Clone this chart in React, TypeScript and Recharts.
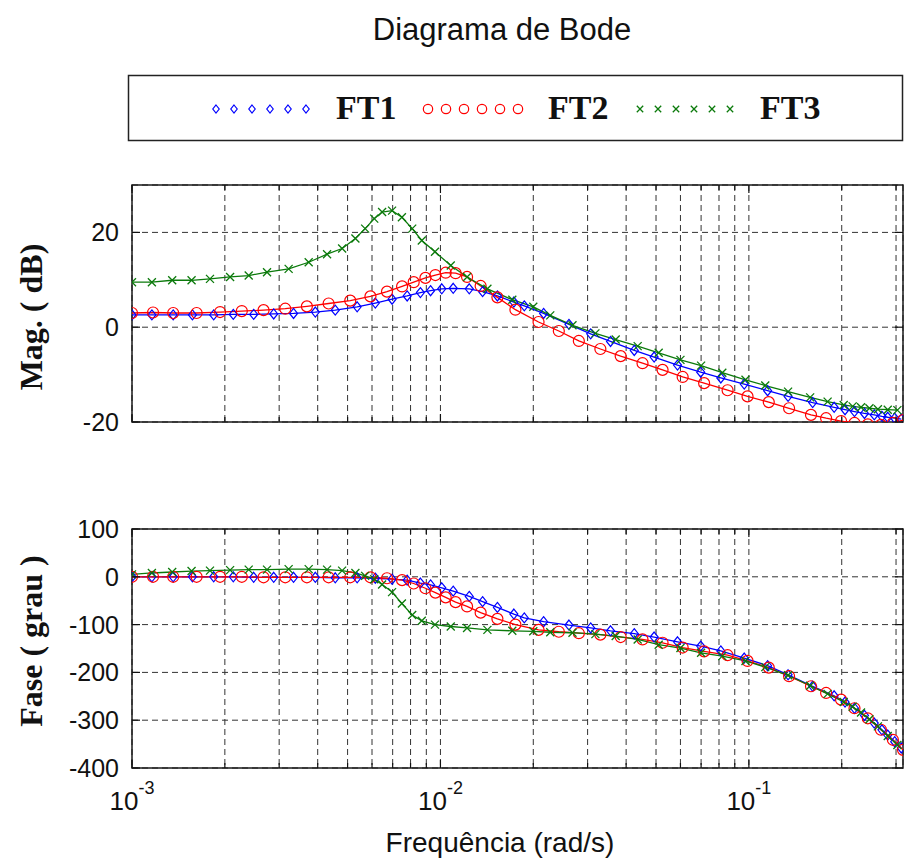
import React from 'react';
import { LineChart, Line, XAxis, YAxis, CartesianGrid, ReferenceArea } from 'recharts';

// frequency (rad/s) samples per transfer function
const ft1Freq = [0.001, 0.00116, 0.00136, 0.00157, 0.00184, 0.00213, 0.00248, 0.00288, 0.00334, 0.00393, 0.00456, 0.00537, 0.00615, 0.00697, 0.0078, 0.00861, 0.00929, 0.0101, 0.011, 0.0124, 0.0137, 0.0153, 0.0173, 0.0187, 0.0216, 0.0261, 0.0307, 0.0356, 0.0425, 0.0493, 0.0587, 0.0698, 0.0811, 0.0966, 0.115, 0.134, 0.161, 0.189, 0.205, 0.22, 0.237, 0.255, 0.27, 0.282, 0.297, 0.312];
const ft1Mag = [2.6, 2.6, 2.6, 2.6, 2.6, 2.7, 2.7, 2.8, 2.9, 3.2, 3.6, 4.3, 5.1, 5.9, 6.6, 7.3, 7.7, 8.1, 8.2, 8.1, 7.5, 6.6, 5.3, 4.5, 2.9, 0.6, -1.4, -3.0, -4.9, -6.3, -8.0, -9.5, -10.7, -12.0, -13.4, -14.6, -15.9, -16.9, -17.4, -17.8, -18.2, -18.5, -18.8, -19.0, -19.2, -19.4];
const ft1Phase = [0, 0, 0, 0, 0, 0, -1, -1, -1, -1, -2, -2, -3, -5, -7, -13, -17, -23, -30, -41, -52, -64, -78, -86, -94, -101, -107, -113, -119, -126, -136, -145, -155, -170, -186, -205, -229, -249, -262, -275, -290, -306, -320, -331, -345, -358];

const ft2Freq = [0.001, 0.00117, 0.00136, 0.00162, 0.00193, 0.00227, 0.00267, 0.00314, 0.00369, 0.00434, 0.0051, 0.00593, 0.00671, 0.00751, 0.00819, 0.00894, 0.00963, 0.0104, 0.0112, 0.0122, 0.0135, 0.0153, 0.0175, 0.0208, 0.0242, 0.0281, 0.033, 0.0384, 0.0452, 0.0525, 0.061, 0.0716, 0.0853, 0.099, 0.116, 0.135, 0.159, 0.178, 0.199, 0.22, 0.243, 0.268, 0.293, 0.316];
const ft2Mag = [3.0, 3.1, 3.0, 3.0, 3.2, 3.4, 3.6, 3.9, 4.4, 5.0, 5.6, 6.5, 7.5, 8.6, 9.5, 10.4, 11.0, 11.5, 11.4, 10.6, 8.7, 6.3, 3.7, 1.1, -0.8, -2.9, -4.6, -6.1, -7.6, -9.0, -10.5, -11.8, -13.3, -14.6, -15.8, -17.1, -18.5, -19.2, -19.8, -20.2, -20.5, -20.6, -20.2, -19.6];
const ft2Phase = [0, 0, 0, 0, 0, 0, -1, -1, -1, -1, -1, -1, -3, -7, -14, -24, -33, -43, -53, -62, -75, -88, -100, -111, -115, -118, -121, -126, -131, -138, -148, -156, -164, -176, -190, -208, -229, -243, -257, -275, -296, -320, -341, -362];

const ft3Freq = [0.001, 0.00116, 0.00135, 0.00156, 0.00179, 0.00208, 0.00239, 0.00274, 0.00322, 0.00374, 0.00429, 0.0048, 0.0053, 0.0057, 0.0061, 0.00647, 0.00697, 0.0075, 0.0081, 0.0087, 0.0096, 0.0108, 0.0122, 0.0142, 0.0171, 0.02, 0.0227, 0.0268, 0.0318, 0.037, 0.0436, 0.051, 0.06, 0.07, 0.082, 0.0975, 0.113, 0.134, 0.158, 0.18, 0.203, 0.217, 0.231, 0.246, 0.262, 0.282, 0.303];
const ft3Mag = [9.5, 9.5, 9.9, 9.9, 10.2, 10.6, 10.9, 11.6, 12.3, 13.7, 15.4, 16.6, 18.7, 20.8, 22.9, 24.3, 24.6, 23.2, 20.8, 18.3, 15.9, 13.0, 10.6, 8.1, 5.8, 4.3, 2.5, 0.4, -1.3, -2.6, -4.0, -5.4, -6.9, -8.1, -9.6, -11.1, -12.3, -13.6, -14.8, -15.7, -16.4, -16.7, -16.9, -17.1, -17.3, -17.4, -17.5];
const ft3Phase = [5, 8, 10, 12, 13, 14, 15, 15, 16, 16, 15, 13, 8, 2, -5, -16, -32, -56, -80, -92, -100, -104, -107, -111, -113, -114, -116, -117, -120, -124, -131, -142, -149, -159, -166, -176, -189, -206, -228, -245, -262, -272, -284, -298, -313, -333, -352];

const freqTicks = [0.001, 0.002, 0.003, 0.004, 0.005, 0.006, 0.007, 0.008, 0.009, 0.01, 0.02, 0.03, 0.04, 0.05, 0.06, 0.07, 0.08, 0.09, 0.1, 0.2, 0.3];
const magTicks = [-20, 0, 20];
const phaseTicks = [-400, -300, -200, -100, 0, 100];

const seriesNames = ['FT1', 'FT2', 'FT3'];
const seriesColors = ['#0000ff', '#ff0000', '#0b7a0b'];
const seriesMarkers = ['diamond', 'circle', 'cross'];

const series = [
  { freq: ft1Freq, mag: ft1Mag, phase: ft1Phase },
  { freq: ft2Freq, mag: ft2Mag, phase: ft2Phase },
  { freq: ft3Freq, mag: ft3Mag, phase: ft3Phase },
].map((s, i) => ({ ...s, name: seriesNames[i], color: seriesColors[i], marker: seriesMarkers[i] }));

const W = 908;
const PLOT_LEFT = 132;
const PLOT_RIGHT = 903;
const SANS = '"Liberation Sans", Arial, Helvetica, sans-serif';
const SERIF = '"Liberation Serif", "Times New Roman", serif';
const INK = '#111';

function Marker({ kind, cx, cy, color, s = 1 }: any) {
  if (kind === 'diamond') {
    return (
      <path
        d={`M${cx},${cy - 5 * s}L${cx + 4 * s},${cy}L${cx},${cy + 5 * s}L${cx - 4 * s},${cy}Z`}
        fill="none"
        stroke={color}
        strokeWidth={1.2}
      />
    );
  }
  if (kind === 'circle') {
    return <circle cx={cx} cy={cy} r={5.5 * s} fill="none" stroke={color} strokeWidth={1.2} />;
  }
  return (
    <path
      d={`M${cx - 4 * s},${cy - 4 * s}L${cx + 4 * s},${cy + 4 * s}M${cx - 4 * s},${cy + 4 * s}L${cx + 4 * s},${cy - 4 * s}`}
      stroke={color}
      strokeWidth={1.3}
    />
  );
}

const dotFor = (kind: string, color: string) => (p: any) => {
  const { cx, cy, index } = p;
  if (cx == null || cy == null) return <g key={index} />;
  return <Marker key={index} kind={kind} cx={cx} cy={cy} color={color} />;
};

function XTick({ x, y, payload, plotH, showLabel }: any) {
  const v = payload.value;
  const lg = Math.log10(v);
  const exp = Math.round(lg);
  const major = Math.abs(lg - exp) < 1e-6;
  const len = major ? 8 : 5;
  return (
    <g>
      <line x1={x} x2={x} y1={y} y2={y - len} stroke={INK} strokeWidth={1.2} />
      <line x1={x} x2={x} y1={y - plotH} y2={y - plotH + len} stroke={INK} strokeWidth={1.2} />
      {showLabel && major && (
        <text x={x} y={y + 42} textAnchor="middle" fontFamily={SANS} fontSize={26} fill={INK}>
          10
          <tspan dy={-16} fontSize={18}>
            {exp}
          </tspan>
        </text>
      )}
    </g>
  );
}

function YTick({ x, y, payload, plotW }: any) {
  return (
    <g>
      <line x1={x} x2={x + 8} y1={y} y2={y} stroke={INK} strokeWidth={1.2} />
      <line x1={x + plotW - 8} x2={x + plotW} y1={y} y2={y} stroke={INK} strokeWidth={1.2} />
      <text x={x - 13} y={y} dy="0.36em" textAnchor="end" fontFamily={SANS} fontSize={25} fill={INK}>
        {payload.value}
      </text>
    </g>
  );
}

function BodePanel({ top, height, marginTop, marginBottom, xAxisHeight, yTicks, yDomain, valueKey, showXLabels }: any) {
  const plotH = height - marginTop - marginBottom - xAxisHeight;
  const plotW = PLOT_RIGHT - PLOT_LEFT;
  return (
    <div style={{ position: 'absolute', left: 0, top, width: W, height }}>
      <LineChart
        width={W}
        height={height}
        margin={{ top: marginTop, right: W - PLOT_RIGHT, bottom: marginBottom, left: PLOT_LEFT - 60 }}
      >
        <CartesianGrid stroke="#333" strokeDasharray="6 4" strokeWidth={1} />
        <XAxis
          type="number"
          dataKey="f"
          scale="log"
          domain={[0.001, 0.316]}
          allowDataOverflow
          ticks={freqTicks}
          interval={0}
          height={xAxisHeight}
          tickSize={0}
          tickMargin={0}
          tickLine={false}
          axisLine={false}
          tick={(p: any) => <XTick x={p.x} y={p.y} payload={p.payload} plotH={plotH} showLabel={showXLabels} />}
        />
        <YAxis
          type="number"
          domain={yDomain}
          ticks={yTicks}
          allowDataOverflow
          interval={0}
          width={60}
          tickSize={0}
          tickMargin={0}
          tickLine={false}
          axisLine={false}
          tick={(p: any) => <YTick x={p.x} y={p.y} payload={p.payload} plotW={plotW} />}
        />
        {series.map((s) => (
          <Line
            key={s.name}
            name={s.name}
            data={s.freq.map((f, i) => ({ f, v: s[valueKey as 'mag' | 'phase'][i] }))}
            dataKey="v"
            type="linear"
            stroke={s.color}
            strokeWidth={1.3}
            dot={dotFor(s.marker, s.color)}
            activeDot={false}
            isAnimationActive={false}
          />
        ))}
        <ReferenceArea
          x1={0.001}
          x2={0.316}
          y1={yDomain[0]}
          y2={yDomain[1]}
          fill="none"
          fillOpacity={0}
          stroke="#1a1a1a"
          strokeWidth={1.5}
          ifOverflow="visible"
        />
      </LineChart>
    </div>
  );
}

function Overlay() {
  const legendItems = [
    { markerStart: 216, textX: 336 },
    { markerStart: 428, textX: 548 },
    { markerStart: 640, textX: 760 },
  ];
  return (
    <svg width={W} height={864} style={{ position: 'absolute', left: 0, top: 0 }}>
      <text x={502} y={40} textAnchor="middle" fontFamily={SANS} fontSize={31} fill={INK}>
        Diagrama de Bode
      </text>
      <rect x={128.5} y={75.5} width={774} height={65} fill="#fff" stroke="#222" strokeWidth={1.5} />
      {series.map((s, i) => (
        <g key={s.name}>
          {[0, 1, 2, 3, 4, 5].map((k) => (
            <Marker
              key={k}
              kind={s.marker}
              cx={legendItems[i].markerStart + k * 18}
              cy={109}
              color={s.color}
              s={s.marker === 'circle' ? 0.85 : 0.8}
            />
          ))}
          <text x={legendItems[i].textX} y={119} fontFamily={SERIF} fontWeight="bold" fontSize={34} fill={INK}>
            {s.name}
          </text>
        </g>
      ))}
      <text
        transform="translate(42,317) rotate(-90)"
        textAnchor="middle"
        fontFamily={SERIF}
        fontWeight="bold"
        fontSize={32}
        fill={INK}
      >
        Mag. ( dB)
      </text>
      <text
        transform="translate(42,641) rotate(-90)"
        textAnchor="middle"
        fontFamily={SERIF}
        fontWeight="bold"
        fontSize={32}
        fill={INK}
      >
        Fase ( grau )
      </text>
      <text x={500} y={852} textAnchor="middle" fontFamily={SANS} fontSize={28} fill={INK}>
        Frequência (rad/s)
      </text>
    </svg>
  );
}

export default function App() {
  return (
    <div style={{ position: 'absolute', left: 0, top: 0, width: W, height: 864, background: '#fff' }}>
      <Overlay />
      <BodePanel
        top={150}
        height={310}
        marginTop={35}
        marginBottom={8}
        xAxisHeight={30}
        yTicks={magTicks}
        yDomain={[-20, 30]}
        valueKey="mag"
        showXLabels={false}
      />
      <BodePanel
        top={470}
        height={394}
        marginTop={59}
        marginBottom={36}
        xAxisHeight={60}
        yTicks={phaseTicks}
        yDomain={[-400, 100]}
        valueKey="phase"
        showXLabels={true}
      />
    </div>
  );
}
